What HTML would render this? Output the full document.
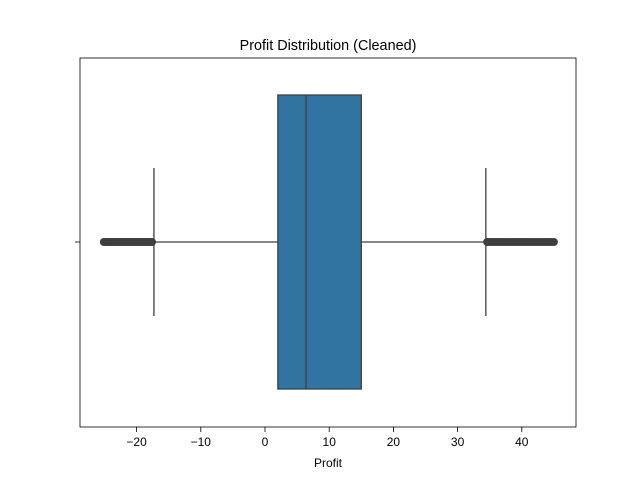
<!DOCTYPE html>
<html><head><meta charset="utf-8"><style>
body{margin:0;background:#fff}
svg text{font-family:"Liberation Sans",sans-serif;font-size:12px;fill:#000}
</style></head><body>
<svg width="640" height="480" xmlns="http://www.w3.org/2000/svg">
<text x="328" y="50" text-anchor="middle" style="font-size:14.4px">Profit Distribution (Cleaned)</text>
<g id="plot"></g>
<rect x="80" y="58" width="496" height="369" fill="none" stroke="#000" stroke-width="0.8"/>
<g id="ticks"></g>
<line x1="75" y1="242" x2="80" y2="242" stroke="#000" stroke-width="0.8"/>
<text x="328" y="467" text-anchor="middle">Profit</text>
</svg>
<script>
const tickValues=[-20,-10,0,10,20,30,40];
const tickLabels=["\u221220","\u221210","0","10","20","30","40"];
const boxStats={lowWhisker:-17.3,q1:2.0,median:6.4,q3:15.0,highWhisker:34.4};
const lowOutliers=[-25.1,-24.8,-24.5,-24.2,-23.9,-23.6,-23.3,-23.0,-22.7,-22.4,-22.1,-21.8,-21.5,-21.2,-20.9,-20.6,-20.3,-20.0,-19.7,-19.4,-19.1,-18.8,-18.5,-18.2,-17.9,-17.6];
const highOutliers=[34.6,35.0,35.4,35.8,36.2,36.6,37.0,37.4,37.8,38.2,38.6,39.0,39.4,39.8,40.2,40.6,41.0,41.4,41.8,42.2,42.6,43.0,43.4,43.8,44.2,44.6,45.0];
const ns="http://www.w3.org/2000/svg";
const x=v=>265+v*6.42;
const yc=242;
function mk(tag,attrs,parent){const e=document.createElementNS(ns,tag);for(const k in attrs)e.setAttribute(k,attrs[k]);parent.appendChild(e);return e;}
const plot=document.getElementById('plot'), tk=document.getElementById('ticks');
tickValues.forEach((v,i)=>{
  const l=mk('line',{x1:x(v),x2:x(v),y1:427,y2:432,stroke:'#000','stroke-width':0.8},tk);
  
  
  const t=mk('text',{x:x(v),y:446,'text-anchor':'middle'},tk);t.textContent=tickLabels[i];
  
  
});
const s='#3f3f3f';
let w=mk('line',{x1:x(boxStats.lowWhisker),x2:x(boxStats.q1),y1:yc,y2:yc,stroke:s,'stroke-width':1.3},plot);


w=mk('line',{x1:x(boxStats.q3),x2:x(boxStats.highWhisker),y1:yc,y2:yc,stroke:s,'stroke-width':1.3},plot);


let c=mk('line',{x1:x(boxStats.lowWhisker),x2:x(boxStats.lowWhisker),y1:168,y2:316,stroke:s,'stroke-width':1.3},plot);


c=mk('line',{x1:x(boxStats.highWhisker),x2:x(boxStats.highWhisker),y1:168,y2:316,stroke:s,'stroke-width':1.3},plot);


const b=mk('rect',{x:x(boxStats.q1),y:95,width:x(boxStats.q3)-x(boxStats.q1),height:294,fill:'#3274a1',stroke:s,'stroke-width':1.3},plot);


const m=mk('line',{x1:x(boxStats.median),x2:x(boxStats.median),y1:95,y2:389,stroke:s,'stroke-width':1.3},plot);


lowOutliers.concat(highOutliers).forEach(v=>{
  const p=mk('circle',{cx:x(v),cy:yc,r:3.5,fill:s,stroke:s,'stroke-width':1},plot);
  
  
});
</script>
</body></html>
